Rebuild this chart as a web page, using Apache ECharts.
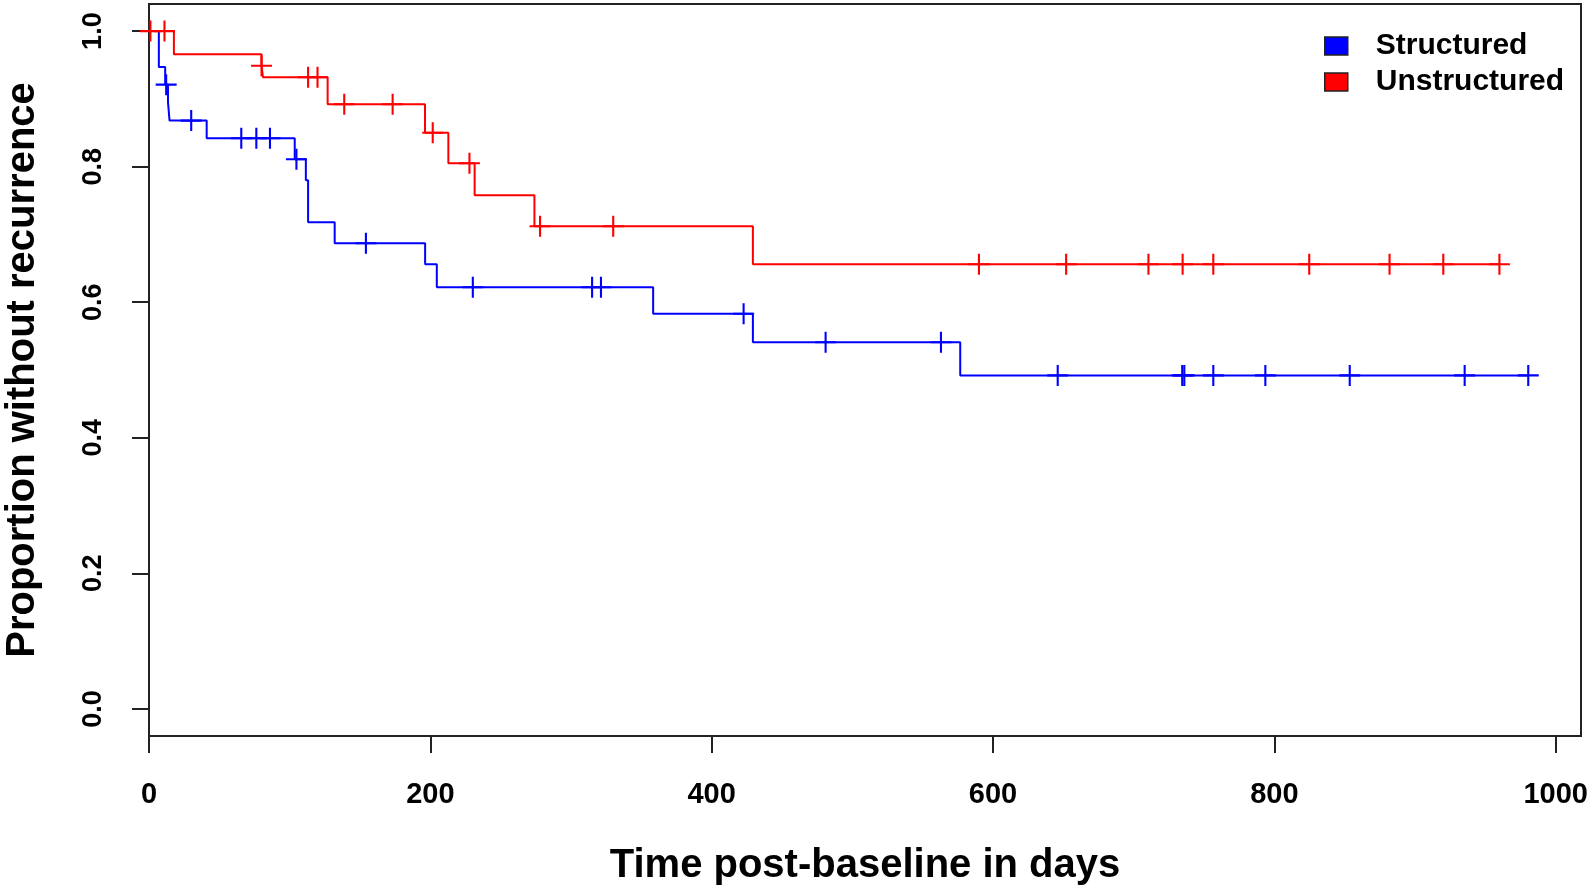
<!DOCTYPE html>
<html>
<head>
<meta charset="utf-8">
<script src="https://cdn.jsdelivr.net/npm/echarts@6/dist/echarts.min.js"></script>
<style>
html,body{margin:0;padding:0;background:#fff;}
#chart{width:1595px;height:888px;}
</style>
</head>
<body>
<div id="chart"></div>
<script>
// Kaplan-Meier step curves: event times and survival levels
const structuredTimes = [0, 7, 11.5, 13.5, 14.6, 41, 103.6, 111.5, 113.1, 132, 196.3, 204.6, 358.4, 429.3, 576.7, 980.5];
const structuredSurv  = [1.0, 0.947, 0.921, 0.895, 0.868, 0.842, 0.811, 0.780, 0.718, 0.687, 0.656, 0.622, 0.583, 0.541, 0.492, 0.492];
const structuredCensorTimes = [12.2, 30, 65.6, 76.3, 86, 104.8, 154.2, 230.2, 315, 321.3, 422.7, 481, 563, 646, 734.5, 736, 756.6, 793.6, 853.6, 935.3, 980.5];
const structuredCensorSurv  = [0.921, 0.868, 0.842, 0.842, 0.842, 0.811, 0.687, 0.622, 0.622, 0.622, 0.583, 0.541, 0.541, 0.492, 0.492, 0.492, 0.492, 0.492, 0.492, 0.492, 0.492];

const unstructuredTimes = [0, 17.7, 80, 81, 127, 196.2, 212.8, 231.5, 274, 429.3, 960];
const unstructuredSurv  = [1.0, 0.966, 0.949, 0.932, 0.892, 0.850, 0.805, 0.758, 0.712, 0.656, 0.656];
const unstructuredCensorTimes = [1, 11, 80, 113.1, 119.8, 138.8, 173.2, 201.7, 227.8, 278, 330, 590, 652, 710.5, 734.8, 756.6, 824.8, 881.9, 920.1, 960];
const unstructuredCensorSurv  = [1.0, 1.0, 0.949, 0.932, 0.932, 0.892, 0.892, 0.850, 0.805, 0.712, 0.712, 0.656, 0.656, 0.656, 0.656, 0.656, 0.656, 0.656, 0.656, 0.656];

const xTicks = [0, 200, 400, 600, 800, 1000];
const yTicks = [0, 0.2, 0.4, 0.6, 0.8, 1.0];
const groupNames = ['Structured', 'Unstructured'];

const zip = (a, b) => a.map((v, i) => [v, b[i]]);
const FONT = '"Liberation Sans", Arial, sans-serif';
const PLUS = 'path://M9,0H11V9H20V11H11V20H9V11H0V9H9Z';
const BLUE = '#0000FF', RED = '#FF0000';

const chart = echarts.init(document.getElementById('chart'), null, {renderer: 'canvas'});
chart.setOption({
  animation: false,
  backgroundColor: '#ffffff',
  grid: {
    left: 149, top: 4, right: 14, bottom: 152,
    show: true, borderColor: '#222', borderWidth: 2, backgroundColor: 'transparent',
    containLabel: false, outerBoundsMode: 'none'
  },
  legend: {
    orient: 'vertical',
    left: 1319, top: 26,
    itemWidth: 23, itemHeight: 18, itemGap: 6,
    itemStyle: {borderColor: '#222', borderWidth: 1.5},
    textStyle: {fontFamily: FONT, fontWeight: 'bold', fontSize: 30, color: '#000', lineHeight: 30, padding: [0, 0, 0, 23]},
    data: [{name: groupNames[0], icon: 'rect'}, {name: groupNames[1], icon: 'rect'}],
    selectedMode: false
  },
  xAxis: {
    type: 'value', min: 0, max: 1018,
    name: 'Time post-baseline in days', nameLocation: 'middle', nameGap: 110,
    nameTextStyle: {fontFamily: FONT, fontWeight: 'bold', fontSize: 40, color: '#000'},
    axisLine: {show: true, onZero: false, lineStyle: {color: '#222', width: 2}},
    axisTick: {show: true, inside: false, length: 17, lineStyle: {color: '#222', width: 2}, customValues: xTicks},
    axisLabel: {show: true, margin: 44, fontFamily: FONT, fontWeight: 'bold', fontSize: 29, color: '#000',
      customValues: xTicks, formatter: v => String(Math.round(v))},
    splitLine: {show: false}
  },
  yAxis: {
    type: 'value', min: -0.04, max: 1.04,
    name: 'Proportion without recurrence', nameLocation: 'middle', nameGap: 106,
    nameRotate: 90,
    nameTextStyle: {fontFamily: FONT, fontWeight: 'bold', fontSize: 40, color: '#000'},
    axisLine: {show: true, onZero: false, lineStyle: {color: '#222', width: 2}},
    axisTick: {show: true, inside: false, length: 17, lineStyle: {color: '#222', width: 2}, customValues: yTicks},
    axisLabel: {show: true, rotate: 90, margin: 42, fontFamily: FONT, fontWeight: 'bold', fontSize: 27, color: '#000',
      customValues: yTicks, formatter: v => Number(v).toFixed(1)},
    splitLine: {show: false}
  },
  series: [
    {
      name: groupNames[0], type: 'line', step: 'end', showSymbol: false, symbol: 'none',
      data: zip(structuredTimes, structuredSurv),
      itemStyle: {color: BLUE}, lineStyle: {color: BLUE, width: 2}, z: 2
    },
    {
      name: groupNames[0], type: 'scatter', symbol: PLUS, symbolSize: 21,
      data: zip(structuredCensorTimes, structuredCensorSurv),
      itemStyle: {color: BLUE, opacity: 1}, z: 3
    },
    {
      name: groupNames[1], type: 'line', step: 'end', showSymbol: false, symbol: 'none',
      data: zip(unstructuredTimes, unstructuredSurv),
      itemStyle: {color: RED}, lineStyle: {color: RED, width: 2}, z: 4
    },
    {
      name: groupNames[1], type: 'scatter', symbol: PLUS, symbolSize: 21,
      data: zip(unstructuredCensorTimes, unstructuredCensorSurv),
      itemStyle: {color: RED, opacity: 1}, z: 5
    }
  ]
});
</script>
</body>
</html>
